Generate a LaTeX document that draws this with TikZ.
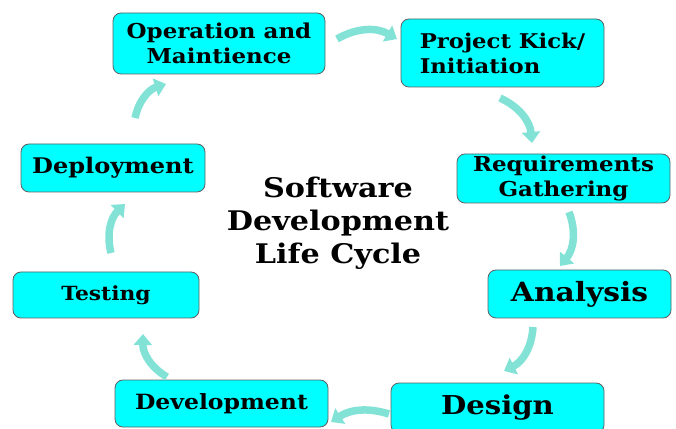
\documentclass[tikz,border=0pt]{standalone}
\usepackage{fontspec}
\setmainfont{DejaVu Serif}[FakeStretch=1.12]
\usetikzlibrary{arrows.meta}
\definecolor{boxcyan}{RGB}{0,255,255}
\definecolor{boxline}{RGB}{95,95,95}
\definecolor{flowteal}{RGB}{130,226,214}

\begin{document}
\begin{tikzpicture}[x=1pt,y=1pt,
  box/.style={draw=boxline,line width=0.8pt,fill=boxcyan,rounded corners=8pt,align=center,inner sep=0pt},
  flow/.style={draw=flowteal,line width=7.5pt,-{Triangle[width=18pt,length=11pt]}}]
\useasboundingbox (0,0) rectangle (676,428);
\clip (0,0) rectangle (676,428);

\node[box,minimum width=212pt,minimum height=61pt,font=\bfseries\fontsize{20.5}{25}\selectfont] (oper) at (219,384.5) {Operation and\\Maintience};
\node[box,minimum width=203pt,minimum height=68pt,font=\bfseries\fontsize{20.3}{25}\selectfont,align=left] (kick) at (502.5,375) {Project Kick/\\Initiation};
\node[box,minimum width=213pt,minimum height=49pt,font=\bfseries\fontsize{20.5}{25}\selectfont] (req) at (563.5,249.5) {Requirements\\Gathering};
\node[box,minimum width=183pt,minimum height=48pt,font=\bfseries\fontsize{26.5}{30}\selectfont] (anal) at (579.5,134) {Analysis};
\node[box,minimum width=213pt,minimum height=50pt,font=\bfseries\fontsize{26}{30}\selectfont] (design) at (497.5,20) {Design};
\node[box,minimum width=213pt,minimum height=47pt,font=\bfseries\fontsize{21}{25}\selectfont] (dev) at (221.5,24.5) {Development};
\node[box,minimum width=186pt,minimum height=46pt,font=\bfseries\fontsize{19.5}{25}\selectfont] (test) at (106,133) {Testing};
\node[box,minimum width=184pt,minimum height=48pt,font=\bfseries\fontsize{21.5}{25}\selectfont] (deploy) at (113,260) {Deployment};

\node[align=center,font=\bfseries\fontsize{27}{33}\selectfont] (title) at (338,205) {Software\\Development\\Life Cycle};

\coordinate (f1a) at (337,389); \coordinate (f1b) at (397,389);
\coordinate (f2a) at (500,330); \coordinate (f2b) at (532,285);
\coordinate (f3a) at (569,216); \coordinate (f3b) at (560,162);
\coordinate (f4a) at (533,101); \coordinate (f4b) at (504,57);
\coordinate (f5a) at (389,14);  \coordinate (f5b) at (331,6);
\coordinate (f6a) at (167,51);  \coordinate (f6b) at (143,94);
\coordinate (f7a) at (111,175); \coordinate (f7b) at (125,224);
\coordinate (f8a) at (135,310); \coordinate (f8b) at (166,344);

\draw[flow] (f1a) to[bend left=30] (f1b);
\draw[flow] (f2a) to[bend left=30] (f2b);
\draw[flow] (f3a) to[bend left=30] (f3b);
\draw[flow] (f4a) to[bend left=30] (f4b);
\draw[flow] (f5a) to[bend right=25] (f5b);
\draw[flow] (f6a) to[bend left=30] (f6b);
\draw[flow] (f7a) to[bend left=30] (f7b);
\draw[flow] (f8a) to[bend left=30] (f8b);
\end{tikzpicture}
\end{document}
